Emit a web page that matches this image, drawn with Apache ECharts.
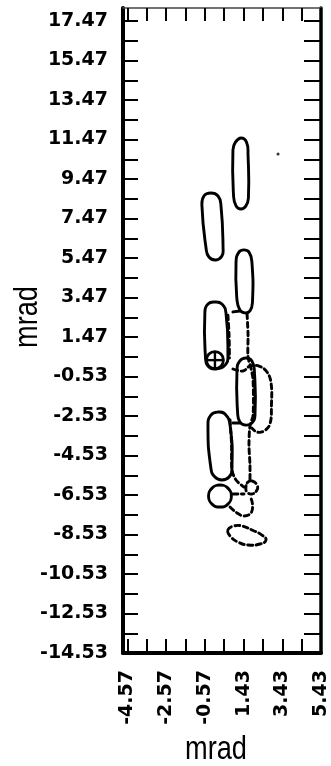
<!DOCTYPE html>
<html>
<head>
<meta charset="utf-8">
<script src="https://cdn.jsdelivr.net/npm/echarts@6/dist/echarts.min.js"></script>
<style>
  html, body { margin: 0; padding: 0; background: #fff; }
  #chart { width: 331px; height: 766px; }
</style>
</head>
<body>
<div id="chart"></div>
<script>
// Axis extents (mrad)
const xRange = [-4.80, 5.43];
const yRange = [-14.53, 18.13];

// Labelled ticks and the finer 1 mrad tick marks
const xTickLabels = [-4.57, -2.57, -0.57, 1.43, 3.43, 5.43];
const xTickMarks = [-4.57, -3.57, -2.57, -1.57, -0.57, 0.43, 1.43, 2.43, 3.43, 4.43, 5.43];
const yTickLabels = [-14.53, -12.53, -10.53, -8.53, -6.53, -4.53, -2.53, -0.53, 1.47, 3.47,
  5.47, 7.47, 9.47, 11.47, 13.47, 15.47, 17.47];
const yTickMarks = [-14.53, -13.53, -12.53, -11.53, -10.53, -9.53, -8.53, -7.53, -6.53, -5.53,
  -4.53, -3.53, -2.53, -1.53, -0.53, 0.47, 1.47, 2.47, 3.47, 4.47, 5.47, 6.47, 7.47, 8.47,
  9.47, 10.47, 11.47, 12.47, 13.47, 14.47, 15.47, 16.47, 17.47];

// Solid contours (closed), vertices in mrad
const contourA = [[1.30, 11.55], [1.58, 11.34], [1.66, 10.69], [1.68, 8.51], [1.55, 8.11],
  [1.30, 7.95], [1.04, 8.11], [0.91, 8.66], [0.88, 10.94], [1.01, 11.34]];
const contourB = [[-0.26, 8.76], [0.11, 8.61], [0.26, 8.15], [0.37, 5.98], [0.31, 5.57],
  [0.00, 5.37], [-0.36, 5.52], [-0.51, 5.98], [-0.72, 8.10], [-0.62, 8.61]];
const contourC = [[1.45, 5.88], [1.71, 5.77], [1.86, 5.27], [1.89, 3.24], [1.76, 2.79],
  [1.50, 2.69], [1.24, 2.84], [1.09, 3.34], [1.04, 5.27], [1.19, 5.77]];
const contourD = [[-0.05, 3.24], [0.31, 3.14], [0.52, 2.69], [0.62, 0.56], [0.52, 0.10],
  [0.00, -0.15], [-0.41, 0.00], [-0.54, 0.46], [-0.57, 2.69], [-0.41, 3.14]];
const contourE = [[1.55, 0.41], [1.86, 0.26], [1.99, -0.30], [2.02, -2.48], [1.86, -2.88],
  [1.55, -2.99], [1.24, -2.83], [1.12, -2.33], [1.09, -0.20], [1.24, 0.26]];
const contourF = [[0.11, -2.33], [0.47, -2.43], [0.73, -2.99], [0.83, -5.16], [0.68, -5.62],
  [0.31, -5.77], [-0.05, -5.62], [-0.26, -5.16], [-0.41, -2.99], [-0.26, -2.48]];
const contourG = [[0.21, -6.02], [0.62, -6.18], [0.80, -6.58], [0.62, -6.99], [0.21, -7.14],
  [-0.20, -6.99], [-0.38, -6.58], [-0.20, -6.18]];

// Short solid tails leaving the lower ends of C and E
const tailC = [[1.24, 2.79], [0.88, 2.74]];
const tailE = [[1.24, -2.88], [0.88, -2.88]];

// Dashed contours
const dashD = [[0.62, 2.58], [0.68, 1.57], [0.70, 0.41]];
const dashSpine = [[1.61, 2.64], [1.66, 1.57], [1.66, 0.46], [1.81, -0.10], [1.92, -0.71],
  [1.92, -2.48], [1.76, -3.04], [1.71, -4.00], [1.76, -5.01], [1.76, -5.77]];
const dashLoopSmall = [[1.86, -5.82], [2.12, -6.02], [2.12, -6.28], [1.86, -6.48],
  [1.61, -6.38], [1.55, -6.13], [1.66, -5.87]];
const dashE = [[0.88, -0.15], [1.40, -0.25], [1.76, 0.00], [2.23, 0.00], [2.64, -0.30],
  [2.85, -0.86], [2.87, -1.97], [2.79, -2.94], [2.48, -3.29], [2.12, -3.34], [1.86, -3.14]];
const dashF = [[0.73, -2.73], [0.81, -4.00], [0.83, -5.26], [1.04, -5.77], [1.45, -6.13]];
const dashG = [[0.88, -6.48], [1.45, -6.48]];
const dashLow = [[0.73, -7.14], [1.09, -7.44], [1.45, -7.59], [1.81, -7.44], [1.89, -6.99],
  [1.76, -6.58]];
const contourH = [[0.62, -8.30], [0.93, -8.10], [1.35, -8.10], [1.86, -8.30], [2.38, -8.56],
  [2.59, -8.81], [2.28, -9.01], [1.66, -9.06], [1.14, -8.91], [0.78, -8.66]];

// Reference markers
const crossMarker = [[-0.05, 0.30]];
const dotMarker = [[3.21, 10.74]];

const INK = '#000';
const NAME_FONT = '34px "Liberation Sans", Arial, sans-serif';

function contourSeries(points, closed, dashed, smooth) {
  return {
    type: 'custom',
    coordinateSystem: 'cartesian2d',
    silent: true,
    clip: false,
    data: points,
    renderItem: function (params, api) {
      if (params.dataIndex !== 0) return null;
      const pts = points.map(p => api.coord(p));
      return {
        type: closed ? 'polygon' : 'polyline',
        shape: { points: pts, smooth: smooth },
        style: {
          fill: 'none',
          stroke: INK,
          lineWidth: 2.9,
          lineDash: dashed ? [5, 3.5] : null,
          lineCap: 'round',
          lineJoin: 'round'
        }
      };
    }
  };
}

const tickLabelStyle = {
  color: INK,
  fontFamily: 'DejaVu Sans',
  fontWeight: 'bold',
  fontSize: 19
};

function fmt(v) { return Number(v).toFixed(2); }

const chart = echarts.init(document.getElementById('chart'), null, { renderer: 'canvas' });

chart.setOption({
  animation: false,
  backgroundColor: '#fff',
  grid: { left: 123, right: 10, top: 8, bottom: 113, containLabel: false },
  xAxis: [{
    type: 'value', position: 'bottom', min: xRange[0], max: xRange[1],
    axisLine: { onZero: false, lineStyle: { color: INK, width: 4 } },
    axisTick: { inside: true, length: 14, lineStyle: { color: INK, width: 2 }, customValues: xTickMarks },
    axisLabel: Object.assign({ customValues: xTickLabels, rotate: 90, margin: 17, formatter: fmt }, tickLabelStyle),
    splitLine: { show: false }
  }, {
    type: 'value', position: 'top', min: xRange[0], max: xRange[1],
    axisLine: { onZero: false, lineStyle: { color: '#444', width: 1.5 } },
    axisTick: { inside: true, length: 13, lineStyle: { color: INK, width: 2 }, customValues: xTickMarks },
    axisLabel: { show: false },
    splitLine: { show: false }
  }],
  yAxis: [{
    type: 'value', position: 'left', min: yRange[0], max: yRange[1],
    axisLine: { onZero: false, lineStyle: { color: INK, width: 4 } },
    axisTick: { inside: true, length: 15, lineStyle: { color: INK, width: 2 }, customValues: yTickMarks },
    axisLabel: Object.assign({ customValues: yTickLabels, margin: 15, formatter: fmt }, tickLabelStyle),
    splitLine: { show: false }
  }, {
    type: 'value', position: 'right', min: yRange[0], max: yRange[1],
    axisLine: { onZero: false, lineStyle: { color: INK, width: 3.5 } },
    axisTick: { inside: true, length: 17, lineStyle: { color: INK, width: 2 }, customValues: yTickMarks },
    axisLabel: { show: false },
    splitLine: { show: false }
  }],
  graphic: [{
    type: 'text',
    x: 216, y: 750, scaleX: 0.8,
    style: { text: 'mrad', x: 0, y: 0, textAlign: 'center', textVerticalAlign: 'middle',
      font: NAME_FONT, fill: INK }
  }, {
    type: 'text',
    x: 28, y: 317, rotation: Math.PI / 2, scaleX: 0.8,
    style: { text: 'mrad', x: 0, y: 0, textAlign: 'center', textVerticalAlign: 'middle',
      font: NAME_FONT, fill: INK }
  }],
  series: [
    contourSeries(contourA, true, false, 0.5),
    contourSeries(contourB, true, false, 0.5),
    contourSeries(contourC, true, false, 0.5),
    contourSeries(contourD, true, false, 0.5),
    contourSeries(contourE, true, false, 0.5),
    contourSeries(contourF, true, false, 0.5),
    contourSeries(contourG, true, false, 0.5),
    contourSeries(tailC, false, false, 0),
    contourSeries(tailE, false, false, 0),
    contourSeries(dashD, false, true, 0.3),
    contourSeries(dashSpine, false, true, 0.3),
    contourSeries(dashLoopSmall, true, true, 0.5),
    contourSeries(dashE, false, true, 0.4),
    contourSeries(dashF, false, true, 0.3),
    contourSeries(dashG, false, true, 0),
    contourSeries(dashLow, false, true, 0.4),
    contourSeries(contourH, true, true, 0.5),
    {
      type: 'custom',
      coordinateSystem: 'cartesian2d',
      silent: true,
      data: crossMarker,
      renderItem: function (params, api) {
        const c = api.coord([api.value(0), api.value(1)]);
        const r = 8.5;
        return {
          type: 'group',
          children: [
            { type: 'circle', shape: { cx: c[0], cy: c[1], r: r },
              style: { fill: 'none', stroke: INK, lineWidth: 2.8 } },
            { type: 'line', shape: { x1: c[0] - r, y1: c[1], x2: c[0] + r, y2: c[1] },
              style: { stroke: INK, lineWidth: 2.4 } },
            { type: 'line', shape: { x1: c[0], y1: c[1] - r, x2: c[0], y2: c[1] + r },
              style: { stroke: INK, lineWidth: 2.4 } }
          ]
        };
      }
    },
    {
      type: 'scatter',
      silent: true,
      data: dotMarker,
      symbol: 'circle',
      symbolSize: 3,
      itemStyle: { color: INK }
    }
  ]
});
</script>
</body>
</html>
